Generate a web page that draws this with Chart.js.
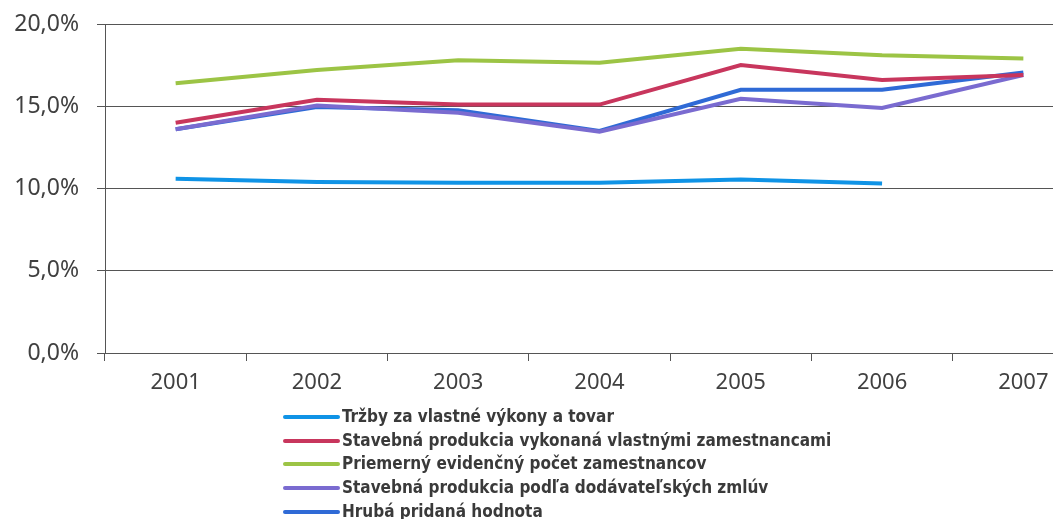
<!DOCTYPE html>
<html>
<head>
<meta charset="utf-8">
<script src="https://cdn.jsdelivr.net/npm/chart.js@4"></script>
<style>
    html, body { margin: 0; padding: 0; background: #fff; overflow: hidden; }
    #wrap { position: relative; width: 1100px; height: 519px; }
    #legend {
        position: absolute; left: 283px; top: 405px;
        font-family: "Liberation Sans Narrow", "DejaVu Sans Condensed", "Arial Narrow", sans-serif;
        font-weight: bold; font-size: 17px; color: #3a3a3a;
    }
    #legend div { height: 23.7px; line-height: 23.7px; white-space: nowrap; }
    #legend span.swatch {
        display: inline-block; width: 57px; height: 4px; border-radius: 2px;
        vertical-align: middle; margin-right: 2px;
    }
</style>
</head>
<body>
<div id="wrap">
    <canvas id="chart" width="1100" height="519"></canvas>
    <div id="legend"></div>
</div>
<script>
// Data
const years = ['2001', '2002', '2003', '2004', '2005', '2006', '2007'];
const trzby = [10.6, 10.4, 10.35, 10.35, 10.55, 10.3, null];
const produkciaVlastni = [14.0, 15.4, 15.1, 15.1, 17.5, 16.6, 16.9];
const pocetZamestnancov = [16.4, 17.2, 17.8, 17.65, 18.5, 18.1, 17.9];
const produkciaZmluvy = [13.6, 15.05, 14.6, 13.45, 15.45, 14.9, 16.9];
const hrubaHodnota = [13.6, 14.95, 14.75, 13.5, 16.0, 16.0, 17.05];
const yTicks = [0, 5, 10, 15, 20];

const seriesNames = [
    'Tržby za vlastné výkony a tovar',
    'Stavebná produkcia vykonaná vlastnými zamestnancami',
    'Priemerný evidenčný počet zamestnancov',
    'Stavebná produkcia podľa dodávateľských zmlúv',
    'Hrubá pridaná hodnota'
];
const seriesColors = ['#0f93e6', '#c8365d', '#9cc445', '#7a6bd0', '#2f6ad6'];
const seriesData = [trzby, produkciaVlastni, pocetZamestnancov, produkciaZmluvy, hrubaHodnota];

const datasets = seriesNames.map(function(name, i) {
    return {
        label: name,
        data: seriesData[i],
        borderColor: seriesColors[i],
        backgroundColor: seriesColors[i],
        borderWidth: 4,
        pointRadius: 0,
        tension: 0,
        spanGaps: false
    };
});

new Chart(document.getElementById('chart'), {
    type: 'line',
    data: { labels: years, datasets: datasets },
    options: {
        responsive: false,
        animation: false,
        layout: { padding: { top: 0, right: 6, left: 0, bottom: 0 } },
        plugins: { legend: { display: false }, tooltip: { enabled: false } },
        scales: {
            x: {
                offset: true,
                grid: {
                    offset: true,
                    drawOnChartArea: false,
                    drawTicks: true,
                    tickLength: 8,
                    color: '#555'
                },
                border: { color: '#555', width: 1 },
                ticks: {
                    padding: 9,
                    color: '#404040',
                    font: { family: 'Noto Sans', size: 22 }
                },
                afterFit: function(scale) { scale.height = 166; }
            },
            y: {
                min: 0,
                max: 20,
                afterBuildTicks: function(scale) {
                    scale.ticks = yTicks.map(function(v) { return { value: v }; });
                },
                grid: { color: '#555', tickLength: 8 },
                border: { color: '#555', width: 1 },
                ticks: {
                    padding: 18,
                    color: '#404040',
                    font: { family: 'Noto Sans', size: 23 },
                    callback: function(v) { return v.toFixed(1).replace('.', ',') + '%'; }
                },
                afterFit: function(scale) {
                    scale.width = 105;
                    scale.paddingTop = 24;
                }
            }
        }
    }
});

// HTML legend, stacked like the original
const legend = document.getElementById('legend');
seriesNames.forEach(function(name, i) {
    const row = document.createElement('div');
    const sw = document.createElement('span');
    sw.className = 'swatch';
    sw.style.background = seriesColors[i];
    row.appendChild(sw);
    row.appendChild(document.createTextNode(name));
    legend.appendChild(row);
});
</script>
</body>
</html>
